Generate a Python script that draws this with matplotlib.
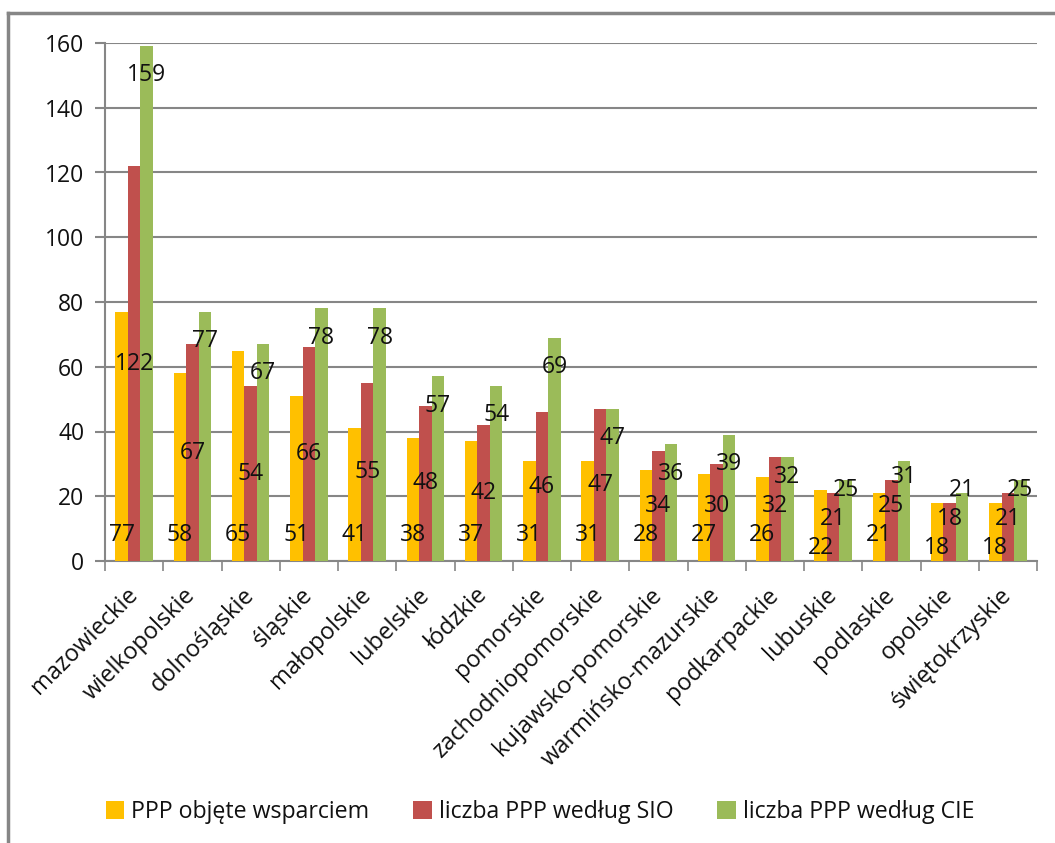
import numpy as np
import matplotlib
matplotlib.use('Agg')
import matplotlib.pyplot as plt
from matplotlib.lines import Line2D

# dane
regiony = ['mazowieckie', 'wielkopolskie', 'dolnośląskie', 'śląskie', 'małopolskie',
           'lubelskie', 'łódzkie', 'pomorskie', 'zachodniopomorskie', 'kujawsko-pomorskie',
           'warmińsko-mazurskie', 'podkarpackie', 'lubuskie', 'podlaskie', 'opolskie',
           'świętokrzyskie']
ppp_wsparcie = [77, 58, 65, 51, 41, 38, 37, 31, 31, 28, 27, 26, 22, 21, 18, 18]
ppp_sio = [122, 67, 54, 66, 55, 48, 42, 46, 47, 34, 30, 32, 21, 25, 18, 21]
ppp_cie = [159, 77, 67, 78, 78, 57, 54, 69, 47, 36, 39, 32, 25, 31, 21, 25]
nazwy = ['PPP objęte wsparciem', 'liczba PPP według SIO', 'liczba PPP według CIE']
kolory = ['#FFC000', '#C0504D', '#9BBB59']
y_ticks = [0, 20, 40, 60, 80, 100, 120, 140, 160]

plt.rcParams['font.family'] = ['Open Sans', 'DejaVu Sans']
szary = '#868686'
fs = 16.5
kolor_txt = '#111111'

fig = plt.figure(figsize=(10.55, 8.43), dpi=100)
ax = fig.add_axes([105 / 1055, 1 - 561 / 843, (1037 - 105) / 1055, (561 - 43) / 843])

x = np.arange(len(regiony))
w = 0.215
serie = [ppp_wsparcie, ppp_sio, ppp_cie]
for i, (vals, kol, naz) in enumerate(zip(serie, kolory, nazwy)):
    ax.bar(x + (i - 1) * w, vals, width=w, color=kol, label=naz, zorder=3)

# etykiety danych: dol / srodek / koniec wewnatrz, rozsuniete przy niskich slupkach
odstep = 9.0
for k in range(len(regiony)):
    yz = 8.0
    yc = max(ppp_sio[k] / 2.0, yz + odstep)
    yg = max(ppp_cie[k] - 9.0, yc + odstep)
    limit = ppp_cie[k] - 3.0
    if yg > limit:
        d = min(yg - limit, yz - 4.0)
        yz, yc, yg = yz - d, yc - d, yg - d
    for i, (vals, yl) in enumerate(zip(serie, [yz, yc, yg])):
        ax.text(x[k] + (i - 1) * w, yl, str(vals[k]), ha='center', va='center',
                fontsize=fs, color=kolor_txt, zorder=4)

ax.set_xlim(-0.5, len(regiony) - 0.5)
ax.set_ylim(0, 160)
ax.set_yticks(y_ticks)
ax.set_yticklabels([str(t) for t in y_ticks], fontsize=fs, color=kolor_txt)
ax.yaxis.grid(True, color=szary, linewidth=1.5, zorder=0)
ax.tick_params(axis='y', length=7, width=1.5, color=szary, pad=8)

ax.set_xticks(x)
ax.set_xticklabels(regiony, rotation=45, ha='right', va='center', rotation_mode='anchor',
                   fontsize=17, color=kolor_txt)
ax.tick_params(axis='x', length=0, pad=22)
ax.set_xticks(np.arange(len(regiony) + 1) - 0.5, minor=True)
ax.tick_params(axis='x', which='minor', length=7, width=1.2, color=szary)

for s in ['top', 'right']:
    ax.spines[s].set_visible(False)
for s in ['left', 'bottom']:
    ax.spines[s].set_color(szary)
    ax.spines[s].set_linewidth(1.5)

leg = fig.legend(loc='center', bbox_to_anchor=(540 / 1055, 1 - 812 / 843), ncol=3, frameon=False,
                 fontsize=16.7, handlelength=0.8, handleheight=0.8, handletextpad=0.3,
                 columnspacing=1.9)
for t in leg.get_texts():
    t.set_color(kolor_txt)

# ramka wykresu
fig.add_artist(Line2D([8 / 1055, 8 / 1055], [0, 1 - 13 / 843], color=szary, linewidth=2.5))
fig.add_artist(Line2D([8 / 1055, 1], [1 - 13 / 843, 1 - 13 / 843], color=szary, linewidth=2.5))

fig.savefig('out.png', dpi=100, facecolor='white')
